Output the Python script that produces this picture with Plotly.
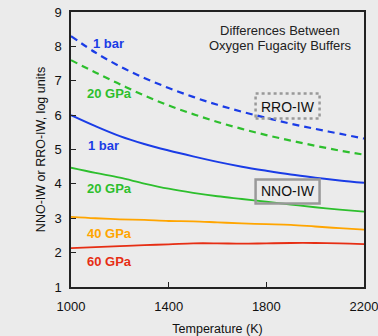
import plotly.graph_objects as go

temperature = [1000, 1100, 1200, 1300, 1400, 1500, 1600, 1700, 1800, 1900, 2000, 2100, 2200]
rro_1bar = [8.30, 7.82, 7.42, 7.08, 6.79, 6.53, 6.30, 6.10, 5.92, 5.75, 5.60, 5.46, 5.32]
rro_20gpa = [7.60, 7.24, 6.90, 6.57, 6.28, 6.03, 5.80, 5.60, 5.42, 5.26, 5.11, 4.97, 4.85]
nno_1bar = [6.00, 5.68, 5.39, 5.16, 4.97, 4.80, 4.64, 4.50, 4.38, 4.27, 4.18, 4.10, 4.03]
nno_20gpa = [4.47, 4.32, 4.18, 4.01, 3.86, 3.74, 3.64, 3.56, 3.48, 3.40, 3.32, 3.25, 3.19]
nno_40gpa = [3.04, 3.00, 2.97, 2.95, 2.92, 2.91, 2.88, 2.85, 2.83, 2.81, 2.76, 2.71, 2.67]
nno_60gpa = [2.13, 2.16, 2.19, 2.22, 2.24, 2.27, 2.27, 2.26, 2.27, 2.28, 2.28, 2.27, 2.25]

x_ticks = [1000, 1400, 1800, 2200]
y_ticks = [1, 2, 3, 4, 5, 6, 7, 8, 9]

BLUE = "#1a3ce6"
GREEN = "#2dbf2d"
ORANGE = "#ffa500"
RED = "#e62e14"
BG = "#ebebeb"
FONT = "Arial, Liberation Sans, sans-serif"

fig = go.Figure()
series = [
    (rro_1bar, BLUE, "7px,5px", 2.2),
    (rro_20gpa, GREEN, "7px,5px", 2.2),
    (nno_1bar, BLUE, "solid", 2.0),
    (nno_20gpa, GREEN, "solid", 1.8),
    (nno_40gpa, ORANGE, "solid", 1.8),
    (nno_60gpa, RED, "solid", 1.8),
]
for ys, col, dash, w in series:
    fig.add_trace(go.Scatter(x=temperature, y=ys, mode="lines",
                             line=dict(color=col, width=w, dash=dash, shape="spline"),
                             showlegend=False, hoverinfo="skip"))

labels = [
    ("1 bar", 1155, 8.09, BLUE),
    ("20 GPa", 1158, 6.64, GREEN),
    ("1 bar", 1133, 5.13, BLUE),
    ("20 GPa", 1158, 3.86, GREEN),
    ("40 GPa", 1158, 2.55, ORANGE),
    ("60 GPa", 1158, 1.73, RED),
]
annotations = []
for txt, x, y, col in labels:
    annotations.append(dict(x=x, y=y, xref="x", yref="y", text=txt, showarrow=False,
                            font=dict(family=FONT, size=13, color=col, weight="bold")))

for txt, y in [("Differences Between", 8.455), ("Oxygen Fugacity Buffers", 8.018)]:
    annotations.append(dict(x=1857, y=y, xref="x", yref="y", text=txt, showarrow=False,
                            font=dict(family=FONT, size=13, color="#222222")))
annotations.append(dict(x=1887, y=6.25, xref="x", yref="y", text="RRO-IW", showarrow=False,
                        font=dict(family=FONT, size=14, color="#111111")))
annotations.append(dict(x=1887, y=3.78, xref="x", yref="y", text="NNO-IW", showarrow=False,
                        font=dict(family=FONT, size=14, color="#111111")))

shapes = [
    dict(type="rect", xref="x", yref="y", x0=1756, x1=2018, y0=5.90, y1=6.63,
         line=dict(color="#999999", width=2.5, dash="dot"), fillcolor="rgba(0,0,0,0)"),
    dict(type="rect", xref="x", yref="y", x0=1756, x1=2018, y0=3.43, y1=4.13,
         line=dict(color="#999999", width=2.5), fillcolor="rgba(0,0,0,0)"),
]

fig.update_layout(
    width=378, height=336,
    margin=dict(l=71, r=14, t=12, b=49),
    paper_bgcolor=BG, plot_bgcolor=BG,
    font=dict(family=FONT, size=13, color="#111111"),
    annotations=annotations, shapes=shapes,
    xaxis=dict(range=[1000, 2200], tickvals=x_ticks, ticks="inside", ticklen=5, tickwidth=1,
               tickcolor="#222", showline=True, linecolor="#222", linewidth=1.5, mirror=True,
               showgrid=False, zeroline=False, automargin=False, ticklabelstandoff=7,
               ticklabeloverflow="allow",
               tickfont=dict(size=13, color="#111"),
               title=dict(text="Temperature (K)", font=dict(size=12.5, color="#111"), standoff=11)),
    yaxis=dict(range=[1, 9], tickvals=y_ticks, ticks="inside", ticklen=5, tickwidth=1,
               tickcolor="#222", showline=True, linecolor="#222", linewidth=1.5, mirror=True,
               showgrid=False, zeroline=False, automargin=False, ticklabelstandoff=5,
               ticklabeloverflow="allow",
               tickfont=dict(size=13, color="#111"),
               title=dict(text="NNO-IW or RRO-IW, log units", font=dict(size=12.5, color="#111"),
                          standoff=6)),
)

fig.write_html("out.html", config={"displayModeBar": False},
               post_script="document.body.style.margin='0';document.body.style.overflow='hidden';")
